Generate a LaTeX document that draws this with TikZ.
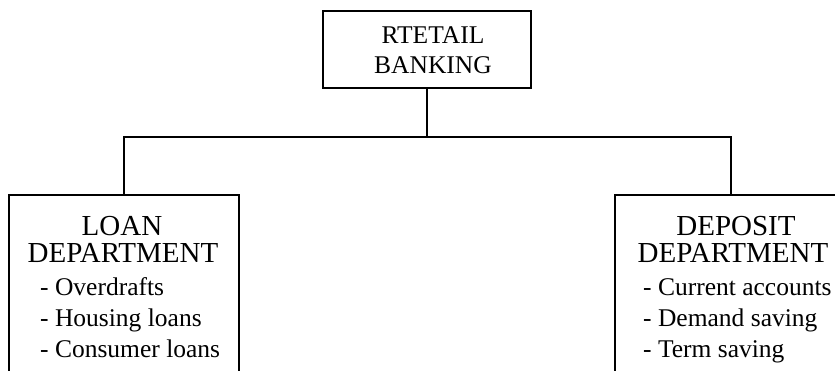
\documentclass[tikz,border=0pt]{standalone}
\usepackage{fontspec}
\setmainfont{Liberation Serif}
\begin{document}
\begin{tikzpicture}[x=1pt,y=-1pt,
  box/.style={draw=black,line width=1.6pt,inner sep=0pt},
  conn/.style={draw=black,line width=1.6pt},
  headtext/.style={anchor=base,inner sep=0pt,font=\fontsize{29}{30}\selectfont},
  toptext/.style={anchor=base,inner sep=0pt,font=\fontsize{25.5}{30}\selectfont},
  itemtext/.style={anchor=base west,inner sep=0pt,font=\fontsize{25.5}{30}\selectfont}]
\clip (0,0) rectangle (835,370);
\fill[white] (0,0) rectangle (835,370);
% boxes
\node[box,minimum width=208pt,minimum height=77pt] (top) at (427,49.5) {};
\node[box,minimum width=230pt,minimum height=240pt] (loan) at (124,315) {};
\node[box,minimum width=232pt,minimum height=240pt] (deposit) at (731,315) {};
% texts
\node[toptext] (t1) at (433,43) {RTETAIL};
\node[toptext] (t2) at (433,73) {BANKING};
\node[headtext] (l1) at (122,235) {LOAN};
\node[headtext] (l2) at (123,262) {DEPARTMENT};
\node[itemtext] (l3) at (40,295) {- Overdrafts};
\node[itemtext] (l4) at (40,326) {- Housing loans};
\node[itemtext] (l5) at (40,357) {- Consumer loans};
\node[headtext] (d1) at (736,235) {DEPOSIT};
\node[headtext] (d2) at (733,262) {DEPARTMENT};
\node[itemtext] (d3) at (643,295) {- Current accounts};
\node[itemtext] (d4) at (643,326) {- Demand saving};
\node[itemtext] (d5) at (643,357) {- Term saving};
% connectors
\coordinate (bus) at (427,137);
\draw[conn] (top.south) -- (bus);
\draw[conn] (bus) -| (loan.north);
\draw[conn] (bus) -| (deposit.north);
\end{tikzpicture}
\end{document}
